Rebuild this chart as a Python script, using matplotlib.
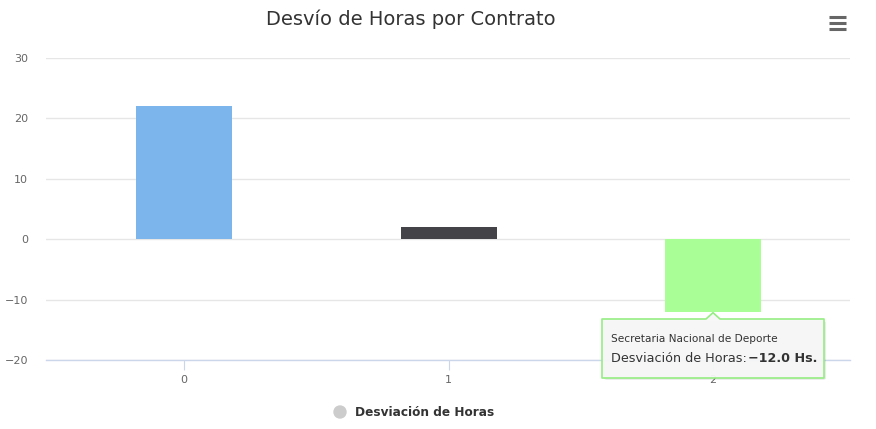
import matplotlib
matplotlib.use("Agg")
import matplotlib.pyplot as plt
from matplotlib.patches import Polygon, Ellipse, FancyBboxPatch
import numpy as np

plt.rcParams['font.family'] = ['DejaVu Sans']

title = "Desvío de Horas por Contrato"
categories = ["0", "1", "2"]
values = [22, 2, -12]
bar_colors = ["#7cb5ec", "#434348", "#a9ff96"]
series_name = "Desviación de Horas"
yticks = [-20, -10, 0, 10, 20, 30]
tooltip_category = "Secretaria Nacional de Deporte"
tooltip_index = 2

W, H = 876, 429
fig = plt.figure(figsize=(W / 100, H / 100), dpi=100)
def fx(x): return x / W
def fy(y): return 1 - y / H

ax = fig.add_axes([fx(46), fy(360), fx(850) - fx(46), fy(58) - fy(360)])
x = np.arange(len(categories))
ax.bar(x, values, width=0.363, color=bar_colors, zorder=3)
ax.set_xlim(-0.522, len(categories) - 1 + 0.518)
ax.set_ylim(min(yticks), max(yticks))
ax.set_yticks(yticks)
ax.set_yticklabels([str(t).replace("-", "\u2212") for t in yticks])
ax.set_xticks(x)
ax.set_xticklabels(categories)
ax.grid(axis='y', color='#e6e6e6', linewidth=1, zorder=0)
for s in ['top', 'right', 'left']:
    ax.spines[s].set_visible(False)
ax.spines['bottom'].set_color('#ccd6eb')
ax.spines['bottom'].set_linewidth(1)
ax.spines['bottom'].set_zorder(4)
ax.tick_params(axis='y', length=0, labelsize=8, labelcolor='#666666', pad=13)
ax.tick_params(axis='x', length=7, color='#ccd6eb', labelsize=8, labelcolor='#666666', pad=4)

# title
fig.text(fx(411), fy(19), title, ha='center', va='center', fontsize=14, color='#333333')

# hamburger menu
for yy in (17, 23, 29):
    fig.add_artist(plt.Line2D([fx(829), fx(846)], [fy(yy), fy(yy)], color='#666666',
                              linewidth=2.2, solid_capstyle='butt'))

# legend
fig.add_artist(Ellipse((fx(340), fy(412)), width=12 / W, height=12 / H,
                       color='#cccccc', transform=fig.transFigure))
fig.text(fx(355), fy(412), series_name, ha='left', va='center', fontsize=8.7,
         fontweight='bold', color='#333333')

# tooltip
fig.canvas.draw()
px, py = ax.transData.transform((x[tooltip_index], values[tooltip_index]))
bx0, bx1 = 602, 824
by0, by1 = 319, 378
sh = FancyBboxPatch((fx(bx0 + 2), fy(by1 + 2)), fx(bx1) - fx(bx0), fy(by0) - fy(by1),
                    boxstyle="round,pad=0,rounding_size=0.004", transform=fig.transFigure,
                    facecolor='#000000', alpha=0.08, edgecolor='none')
fig.add_artist(sh)
tipx, tipy = px / W, py / H - 1 / H
poly = Polygon([
    (fx(bx0), fy(by0)), (tipx - 7 / W, fy(by0)), (tipx, tipy),
    (tipx + 7 / W, fy(by0)), (fx(bx1), fy(by0)), (fx(bx1), fy(by1)), (fx(bx0), fy(by1))],
    closed=True, transform=fig.transFigure, facecolor='#f7f7f7', edgecolor='#90ed7d',
    linewidth=1.2, alpha=0.95, joinstyle='round')
fig.add_artist(poly)
fig.text(fx(611), fy(339), tooltip_category, ha='left', va='center', fontsize=7.6, color='#333333')
t1 = fig.text(fx(611), fy(359), series_name + ":", ha='left', va='center', fontsize=9.2,
              color='#333333')
fig.canvas.draw()
bb = t1.get_window_extent()
fig.text(bb.x1 / W + 1 / W, fy(359), f"\u2212{abs(values[tooltip_index]):.1f} Hs.",
         ha='left', va='center', fontsize=9.2, fontweight='bold', color='#333333')

fig.savefig("out.png", dpi=100)
